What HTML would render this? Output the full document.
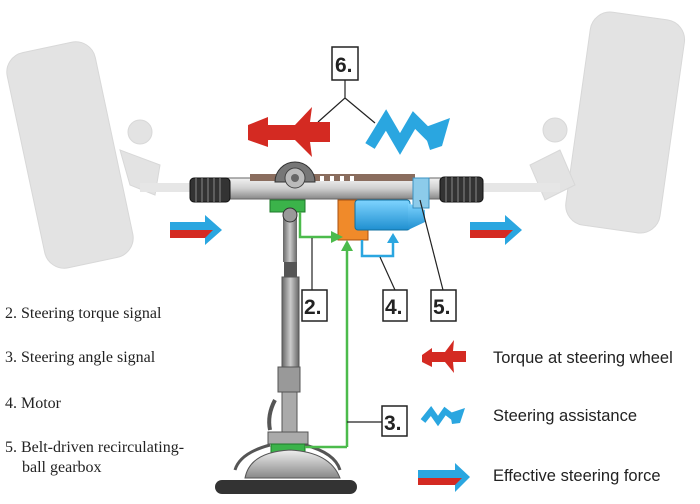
<!DOCTYPE html>
<html><head><meta charset="utf-8"><style>
body{margin:0;background:#fff;}
svg{display:block}
.t{font-family:"Liberation Serif",serif;font-size:16px;fill:#222}
.l{font-family:"Liberation Sans",sans-serif;font-size:16.5px;fill:#222}
.b{font-family:"Liberation Sans",sans-serif;font-size:21px;font-weight:bold;fill:#222}
</style></head><body>
<svg width="700" height="504" viewBox="0 0 700 504" xmlns="http://www.w3.org/2000/svg">
<defs>
<linearGradient id="rod" x1="0" y1="0" x2="0" y2="1"><stop offset="0" stop-color="#f2f2f2"/><stop offset="0.5" stop-color="#cfcfcf"/><stop offset="1" stop-color="#888"/></linearGradient>
<linearGradient id="col" x1="0" y1="0" x2="1" y2="0"><stop offset="0" stop-color="#666"/><stop offset="0.5" stop-color="#ccc"/><stop offset="1" stop-color="#666"/></linearGradient>
<linearGradient id="blu" x1="0" y1="0" x2="0" y2="1"><stop offset="0" stop-color="#7fd4ff"/><stop offset="1" stop-color="#1f8fd0"/></linearGradient>
<linearGradient id="dome" x1="0" y1="0" x2="0" y2="1"><stop offset="0" stop-color="#eee"/><stop offset="1" stop-color="#888"/></linearGradient>
</defs>
<g fill="#e3e3e3" stroke="#d8d8d8">
<rect x="25" y="45" width="90" height="220" rx="20" transform="rotate(-12 70 155)"/>
<rect x="578" y="15" width="95" height="215" rx="20" transform="rotate(8 625 120)"/>
<circle cx="140" cy="132" r="12"/><circle cx="555" cy="130" r="12"/>
<path d="M120 150 L160 165 L155 195 L130 185Z"/><path d="M560 150 L530 165 L545 200 L575 185Z"/>
</g>
<rect x="140" y="183" width="55" height="9" fill="#e6e6e6"/>
<rect x="480" y="183" width="80" height="9" fill="#e6e6e6"/>
<rect x="225" y="178" width="220" height="21" fill="url(#rod)" stroke="#666"/>
<rect x="250" y="174" width="165" height="7" fill="#8a6d5e"/>
<g fill="#fff"><rect x="300" y="176" width="4" height="5"/><rect x="310" y="176" width="4" height="5"/><rect x="320" y="176" width="4" height="5"/><rect x="330" y="176" width="4" height="5"/><rect x="340" y="176" width="4" height="5"/><rect x="350" y="176" width="4" height="5"/></g>
<g fill="#333" stroke="#111"><rect x="190" y="178" width="40" height="24" rx="4"/><rect x="440" y="177" width="43" height="25" rx="4"/></g>
<g stroke="#888" stroke-width="1"><path d="M196 178v24M202 178v24M208 178v24M214 178v24M220 178v24M446 177v25M452 177v25M458 177v25M464 177v25M470 177v25M476 177v25"/></g>
<path d="M275 182 a20 20 0 0 1 40 0Z" fill="#777" stroke="#333"/>
<circle cx="295" cy="178" r="10" fill="#bbb" stroke="#444"/>
<circle cx="295" cy="178" r="4" fill="#666"/>
<rect x="270" y="200" width="35" height="12" fill="#3bb34a" stroke="#1e7a2a"/>
<rect x="338" y="200" width="30" height="40" fill="#f08a2a" stroke="#a85010"/>
<rect x="355" y="200" width="55" height="30" rx="3" fill="url(#blu)" stroke="#1070a0"/>
<path d="M408 203 L425 210 L425 222 L408 230Z" fill="url(#blu)"/>
<rect x="413" y="178" width="16" height="30" fill="#8ccbea" stroke="#3a90c0"/>
<rect x="283" y="212" width="14" height="50" fill="url(#col)"/>
<circle cx="290" cy="215" r="7" fill="#999" stroke="#333"/>
<rect x="284" y="262" width="13" height="15" fill="#555"/>
<rect x="282" y="277" width="17" height="100" fill="url(#col)" stroke="#555"/>
<rect x="278" y="367" width="22" height="25" fill="#999" stroke="#555"/>
<rect x="282" y="392" width="15" height="40" fill="#aaa" stroke="#555"/>
<path d="M275 400 q-8 15 -5 30" stroke="#555" stroke-width="4" fill="none"/>
<rect x="268" y="432" width="40" height="12" fill="#aaa" stroke="#555"/>
<rect x="271" y="444" width="34" height="12" fill="#3bb34a" stroke="#1e7a2a"/>
<path d="M245 478 Q250 452 290 450 Q330 452 340 478Z" fill="url(#dome)" stroke="#555"/>
<path d="M270 445 q-30 8 -35 25 M305 445 q30 8 35 25" stroke="#555" stroke-width="3" fill="none"/>
<rect x="215" y="480" width="142" height="14" rx="7" fill="#333"/>
<g fill="none" stroke-width="2.5">
<path d="M300 212 V237 H332" stroke="#4cbb4c"/>
<path d="M347 447 V248 M305 447 H347" stroke="#4cbb4c"/>
<path d="M362 240 V256 H393 V240" stroke="#2aa6e0"/>
</g>
<path d="M343 237 L331 231 V243Z" fill="#4cbb4c"/>
<path d="M347 240 L341 251 H353Z" fill="#4cbb4c"/>
<path d="M393 233 L387 243 H399Z" fill="#2aa6e0"/>
<g stroke="#222" stroke-width="1.2" fill="none">
<path d="M312 238 V290"/><path d="M380 257 L395 290"/><path d="M420 200 L443 290"/><path d="M347 422 H382"/>
<path d="M345 80 V98 L318 122 M345 98 L375 123"/>
</g>
<g fill="#fff" stroke="#222" stroke-width="1.5">
<rect x="332" y="47" width="26" height="33"/><rect x="302" y="290" width="25" height="31"/>
<rect x="383" y="290" width="24" height="31"/><rect x="431" y="290" width="25" height="31"/><rect x="382" y="406" width="25" height="30"/>
</g>
<text class="b" x="335" y="72">6.</text><text class="b" x="304" y="314">2.</text>
<text class="b" x="385" y="314">4.</text><text class="b" x="433" y="314">5.</text><text class="b" x="384" y="430">3.</text>
<path d="M248 125 L268 117 V125 H295 L312 107 L310 122 L330 122 V142 L310 142 L312 157 L295 140 H268 V147 L248 140Z" fill="#d42a22"/>
<path d="M422 355 L432 348 V352 H445 L454 340 L453 351 L466 351 V362 L453 362 L454 373 L445 362 H432 V367 L422 362Z" fill="#d42a22"/>
<!-- zigzags -->
<g fill="none" stroke="#2aa6e0" stroke-linejoin="miter">
<path d="M370 146 L386 120 L400 144 L414 120 L432 138" stroke-width="11"/>
<path d="M423 421 L431 411 L438 421 L445 411 L454 418" stroke-width="6"/>
</g>
<path d="M423 128 L450 118 L442 146 L430 150Z" fill="#2aa6e0"/>
<path d="M450 413 L465 408 L460 423 L452 424Z" fill="#2aa6e0"/>
<path d="M170 222 H205 V215 L222 230 L205 245 V238 H170Z" fill="#2aa6e0"/><path d="M170 230 H213 L205 238 H170Z" fill="#d42a22"/>
<path d="M470 222 H505 V215 L522 230 L505 245 V238 H470Z" fill="#2aa6e0"/><path d="M470 230 H513 L505 238 H470Z" fill="#d42a22"/>
<path d="M418 470 H455 V463 L470 477 L455 492 V485 H418Z" fill="#2aa6e0"/><path d="M418 478 H462 L455 485 H418Z" fill="#d42a22"/>
<text class="t" x="5" y="318">2. Steering torque signal</text>
<text class="t" x="5" y="362">3. Steering angle signal</text>
<text class="t" x="5" y="408">4. Motor</text>
<text class="t" x="5" y="452">5. Belt-driven recirculating-</text>
<text class="t" x="22" y="472">ball gearbox</text>
<text class="l" x="493" y="363">Torque at steering wheel</text>
<text class="l" x="493" y="421">Steering assistance</text>
<text class="l" x="493" y="481">Effective steering force</text>
</svg>
</body></html>
